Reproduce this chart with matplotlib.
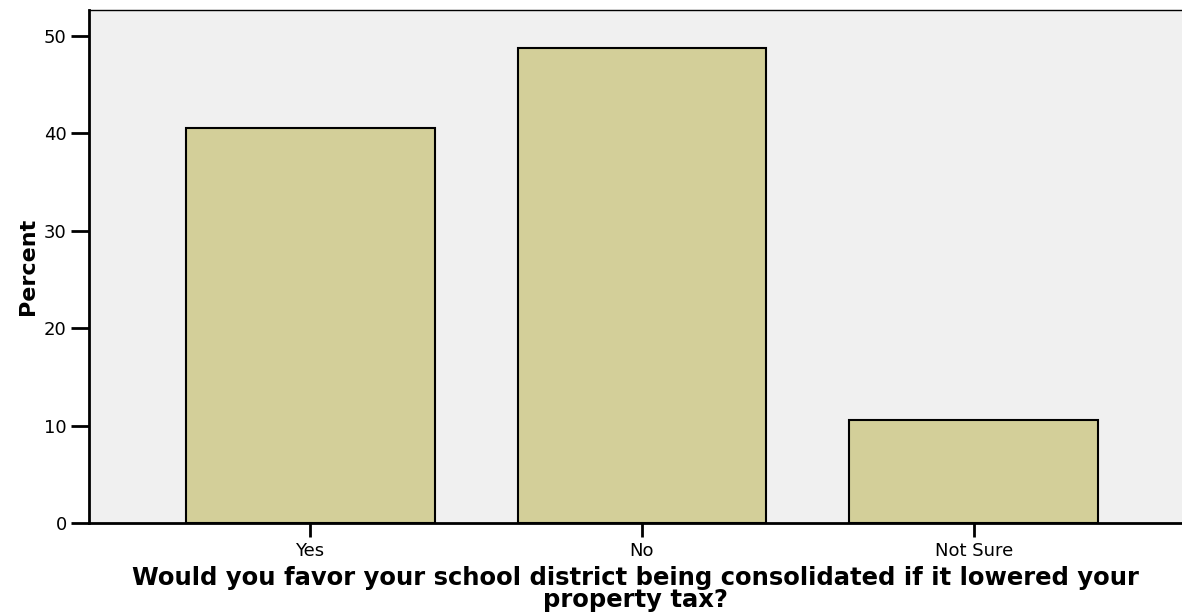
import matplotlib
matplotlib.use('Agg')
import matplotlib.pyplot as plt

# Survey answers and percent of respondents
categories = ['Yes', 'No', 'Not Sure']
percents = [40.6, 48.8, 10.6]
y_ticks = [0, 10, 20, 30, 40, 50]

plt.rcParams['font.family'] = ['DejaVu Sans']

fig = plt.figure(figsize=(11.82, 6.14), dpi=100)
ax = fig.add_axes([0.0753, 0.1482, 0.9247, 0.8355])
ax.set_facecolor('#f0f0f0')

positions = range(len(categories))
ax.bar(positions, percents, width=0.75, color='#d3cf99', edgecolor='black', linewidth=1.5, zorder=3)

ax.set_xlim(-0.666, 2.627)
ax.set_ylim(0, 52.67)
ax.set_xticks(list(positions))
ax.set_xticklabels(categories, fontsize=13)
ax.set_yticks(y_ticks)
ax.tick_params(axis='y', length=13, width=2, labelsize=13, pad=3)
ax.tick_params(axis='x', length=10, width=2, labelsize=13, pad=4)

ax.spines['left'].set_linewidth(2)
ax.spines['bottom'].set_linewidth(2)
ax.spines['top'].set_linewidth(1)
ax.spines['right'].set_visible(False)

ax.set_ylabel('Percent', fontsize=16, fontweight='bold', labelpad=4)
ax.set_xlabel('Would you favor your school district being consolidated if it lowered your\nproperty tax?',
              fontsize=17.5, fontweight='bold', linespacing=0.92, labelpad=4)

fig.savefig('out.png', dpi=100)
